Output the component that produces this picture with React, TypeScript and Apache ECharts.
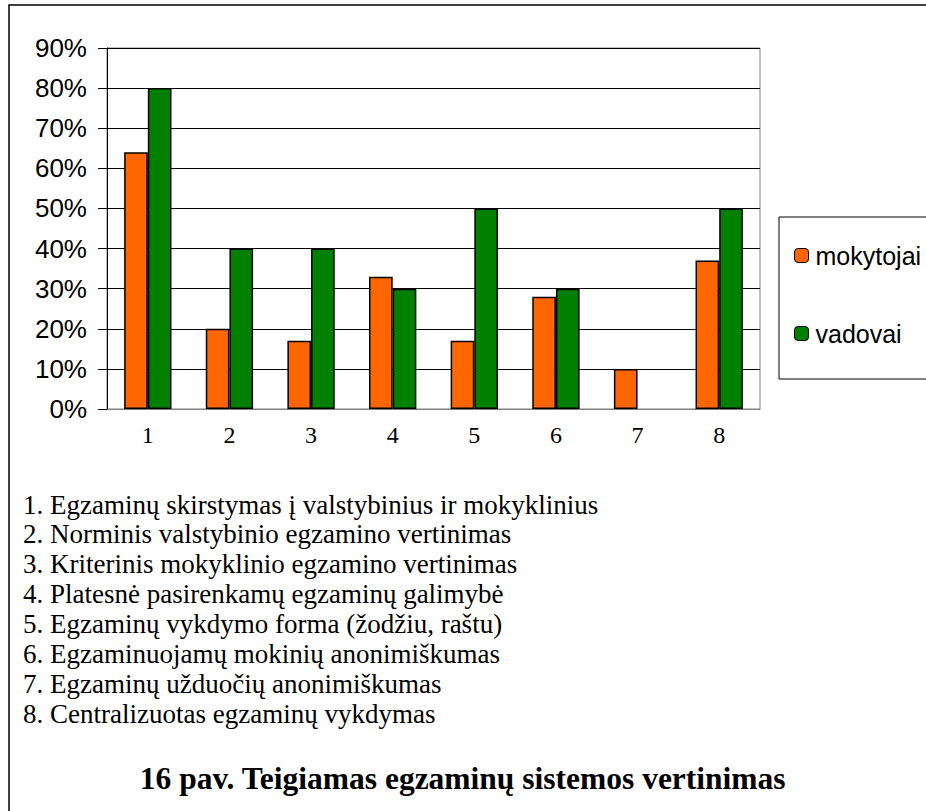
import React, { useEffect, useRef } from "react";
import * as echarts from "echarts";

const categories = ["1", "2", "3", "4", "5", "6", "7", "8"];
const mokytojai = [64, 20, 17, 33, 17, 28, 10, 37];
const vadovai = [80, 40, 40, 30, 50, 30, null, 50];
const yTicks = [0, 10, 20, 30, 40, 50, 60, 70, 80, 90];
const notes = [
  "1. Egzaminų skirstymas į valstybinius ir mokyklinius",
  "2. Norminis valstybinio egzamino vertinimas",
  "3. Kriterinis mokyklinio egzamino vertinimas",
  "4. Platesnė pasirenkamų egzaminų galimybė",
  "5. Egzaminų vykdymo forma (žodžiu, raštu)",
  "6. Egzaminuojamų mokinių anonimiškumas",
  "7. Egzaminų užduočių anonimiškumas",
  "8. Centralizuotas egzaminų vykdymas",
];
const caption = "16 pav. Teigiamas egzaminų sistemos vertinimas";

const SERIF = "'Liberation Serif', 'Times New Roman', serif";
const SANS = "'Liberation Sans', Arial, sans-serif";

export default function App() {
  const ref = useRef<HTMLDivElement>(null);
  useEffect(() => {
    if (!ref.current) return;
    const chart = echarts.init(ref.current, null, { renderer: "svg" });
    const noteTexts = notes.map((t, i) => ({
      type: "text",
      left: 23,
      top: 491 + i * 29.9,
      style: { text: t, font: `27px ${SERIF}`, fill: "#000" },
    }));
    chart.setOption({
      animation: false,
      backgroundColor: "#fff",
      grid: { left: 107, right: 166, top: 48, bottom: 402, containLabel: false, show: true, borderColor: "#808080", borderWidth: 1, backgroundColor: "transparent" },
      legend: {
        orient: "vertical",
        left: 789,
        top: 238,
        itemWidth: 14,
        itemHeight: 14,
        itemGap: 53,
        textStyle: { fontFamily: SANS, fontSize: 25, color: "#000", padding: [0, 0, 0, 2] },
        data: [
          { name: "mokytojai", itemStyle: { color: "#FF6600", borderColor: "#000", borderWidth: 1 } },
          { name: "vadovai", itemStyle: { color: "#008000", borderColor: "#000", borderWidth: 1 } },
        ],
      },
      xAxis: {
        type: "category",
        data: categories,
        axisLine: { show: true, lineStyle: { color: "#808080", width: 1 } },
        axisTick: { show: false },
        axisLabel: { fontFamily: SERIF, fontSize: 24, color: "#000", margin: 14 },
      },
      yAxis: {
        type: "value",
        min: 0,
        max: 90,
        interval: 10,
        axisLine: { show: true, lineStyle: { color: "#000", width: 1 } },
        axisTick: { show: true, length: 9, inside: false, lineStyle: { color: "#000" } },
        axisLabel: {
          fontFamily: SANS,
          fontSize: 26,
          color: "#000",
          margin: 20,
          formatter: (v: number) => (yTicks.includes(v) ? `${v}%` : ""),
        },
        splitLine: { show: true, lineStyle: { color: "#000", width: 1 } },
      },
      series: [
        {
          name: "mokytojai",
          type: "bar",
          data: mokytojai,
          barGap: "0%",
          barCategoryGap: "42%",
          itemStyle: { color: "#FF6600", borderColor: "#000", borderWidth: 1.5 },
        },
        {
          name: "vadovai",
          type: "bar",
          data: vadovai,
          barGap: "0%",
          barCategoryGap: "42%",
          itemStyle: { color: "#008000", borderColor: "#000", borderWidth: 1.5 },
        },
      ],
      graphic: [
        {
          type: "rect",
          shape: { x: 9, y: 5, width: 1000, height: 1000 },
          style: { fill: "none", stroke: "#000", lineWidth: 1.5 },
          z: 100,
        },
        {
          type: "rect",
          shape: { x: 779, y: 217, width: 300, height: 162 },
          style: { fill: "none", stroke: "#000", lineWidth: 1 },
          z: 100,
        },
        ...noteTexts,
        {
          type: "text",
          left: "center",
          top: 762,
          style: { text: caption, font: `bold 31.5px ${SERIF}`, fill: "#000" },
        },
      ],
    });
    return () => chart.dispose();
  }, []);
  return (
    <div
      ref={ref}
      style={{ position: "fixed", left: 0, top: 0, width: 926, height: 811 }}
    />
  );
}
